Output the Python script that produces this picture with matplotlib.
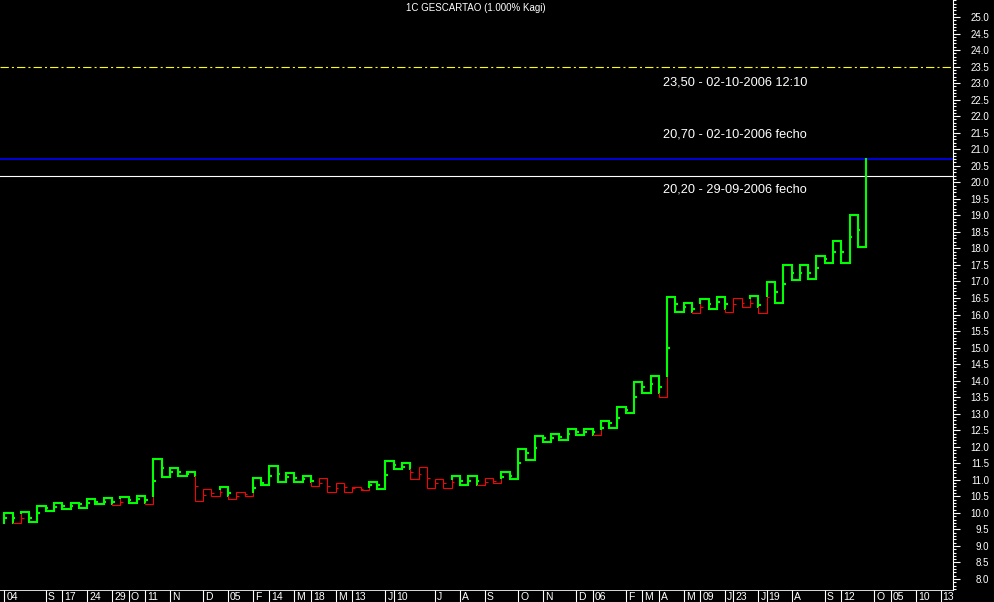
import matplotlib
matplotlib.use('Agg')
import matplotlib.pyplot as plt
import matplotlib.transforms as mtransforms
from matplotlib.ticker import MultipleLocator, FormatStrFormatter
import numpy as np

plt.rcParams['font.family'] = ['Liberation Sans', 'DejaVu Sans']
plt.rcParams['lines.scale_dashes'] = False

# kagi turning points (1% reversal), one vertical line per column
levels = [9.70, 10.01, 9.68, 10.02, 9.73, 10.21, 10.06, 10.31, 10.12, 10.31,
          10.14, 10.42, 10.26, 10.46, 10.24, 10.47, 10.31, 10.52, 10.27, 11.63,
          11.10, 11.37, 11.13, 11.25, 10.36, 10.71, 10.51, 10.77, 10.42, 10.62,
          10.51, 11.05, 10.84, 11.43, 10.92, 11.20, 10.93, 11.12, 10.81, 11.05,
          10.64, 10.89, 10.64, 10.77, 10.69, 10.94, 10.72, 11.58, 11.33, 11.50,
          11.02, 11.38, 10.74, 11.02, 10.74, 11.13, 10.84, 11.13, 10.83, 11.05,
          10.89, 11.25, 11.03, 11.93, 11.60, 12.33, 12.13, 12.38, 12.21, 12.53,
          12.36, 12.54, 12.35, 12.79, 12.58, 13.19, 13.03, 13.97, 13.64, 14.15,
          13.52, 16.54, 16.09, 16.34, 16.06, 16.46, 16.17, 16.54, 16.07, 16.49,
          16.22, 16.55, 16.05, 16.99, 16.36, 17.50, 17.04, 17.50, 17.07, 17.78,
          17.55, 18.23, 17.57, 19.01, 18.05, 20.70]

# small date marks on each column
marks = [9.84, 9.84, 9.84, 9.86, 9.99, 10.16, 10.19, 10.22, 10.22, 10.26,
         10.31, 10.34, 10.34, 10.34, 10.34, 10.39, 10.42, 10.39, 10.98, 11.37,
         11.25, 11.25, 11.18, 10.81, 10.54, 10.59, 10.62, 10.59, 10.51, 10.56,
         10.74, 10.89, 11.12, 11.18, 11.10, 11.05, 11.02, 10.98, 10.89, 10.81,
         10.76, 10.77, 10.74, 10.71, 10.84, 10.84, 11.15, 11.45, 11.40, 11.25,
         11.18, 11.05, 10.89, 10.89, 10.94, 10.98, 10.98, 10.98, 10.94, 10.96,
         11.08, 11.12, 11.52, 11.80, 11.97, 12.26, 12.28, 12.31, 12.39, 12.46,
         12.46, 12.46, 12.56, 12.71, 12.88, 13.11, 13.52, 13.82, 13.89, 13.82,
         15.00, 16.31, 16.24, 16.17, 16.22, 16.31, 16.37, 16.31, 16.31, 16.34,
         16.34, 16.29, 16.54, 16.69, 16.92, 17.27, 17.27, 17.27, 17.42, 17.67,
         17.90, 17.90, 18.34, 18.56, np.nan]

date_cols = [0, 5, 7, 10, 13, 15, 17, 20, 24, 27, 30, 32, 35, 37, 40, 42, 46, 47,
             52, 55, 58, 62, 65, 69, 71, 75, 77, 79, 82, 84, 87, 88, 91, 92, 95,
             99, 101, 105, 107, 110, 113]
date_labels = ['04', 'S', '17', '24', '29', 'O', '11', 'N', 'D', '05', 'F', '14',
               'M', '18', 'M', '13', 'J', '10', 'J', 'A', 'S', 'O', 'N', 'D', '06',
               'F', 'M', 'A', 'M', '09', 'J', '23', 'J', '19', 'A', 'S', '12', 'O',
               '05', '10', '13']

ref_lines = [23.50, 20.70, 20.20]
ref_texts = ['23,50 - 02-10-2006 12:10', '20,70 - 02-10-2006 fecho',
             '20,20 - 29-09-2006 fecho']
ref_text_y = [23.03, 21.46, 19.77]

GREEN = '#00ff00'
RED = '#ff0000'
W = 994
H = 602
xlim = (-0.52, 114.49)

fig = plt.figure(figsize=(W / 100, H / 100), dpi=100, facecolor='black')
ax = fig.add_axes([0, 12 / H, 953 / W, 590 / H], facecolor='black')
ax.set_xlim(*xlim)
ax.set_ylim(7.668, 25.514)

# build kagi pieces with yang/yin state
pieces = []
col_info = []
yang = True
n = len(levels) - 1
for i in range(n):
    a, b = levels[i], levels[i + 1]
    ref = levels[i - 1] if i > 0 else None
    flip = False
    if ref is not None:
        if b > a and not yang and b > ref:
            flip = True
        if b < a and yang and b < ref:
            flip = True
    before = yang
    if flip:
        pieces.append(([i, i], [a, ref], yang))
        yang = not yang
        pieces.append(([i, i], [ref, b], yang))
    else:
        pieces.append(([i, i], [a, b], yang))
    col_info.append((a, ref, b, flip, before, yang))
    if i < n - 1:
        pieces.append(([i, i + 1], [b, b], yang))

# merge same-state pieces into polylines
runs = []
for xs, ys, st in pieces:
    if runs and runs[-1][2] == st:
        runs[-1][0].append(xs[1])
        runs[-1][1].append(ys[1])
    else:
        runs.append(([xs[0], xs[1]], [ys[0], ys[1]], st))
for xs, ys, st in runs:
    ax.plot(xs, ys, color=GREEN if st else RED, lw=1.5 if st else 0.75,
            solid_joinstyle='miter', solid_capstyle='projecting', zorder=3)

# date marks
for i, m in enumerate(marks):
    if np.isnan(m):
        continue
    a, ref, b, flip, before, after = col_info[i]
    st = after
    if flip and (min(a, ref) <= m <= max(a, ref)):
        st = before
    ax.hlines(m, i, i + 0.32, color=GREEN if st else RED,
              lw=1.5 if st else 0.75, zorder=3)

# reference lines
ax.axhline(ref_lines[0], color='#ffff00', lw=0.8,
           linestyle=(0, (6, 2.2, 1.5, 2.2)), zorder=2)
ax.axhline(ref_lines[1], color='#0000ff', lw=1.2, zorder=2)
ax.axhline(ref_lines[2], color='white', lw=0.8, zorder=2)
trans = mtransforms.blended_transform_factory(ax.transAxes, ax.transData)
for t, y in zip(ref_texts, ref_text_y):
    ax.text(807 / 953, y, t, transform=trans, color='white', fontsize=9.2,
            ha='right', va='center')

# right price axis
for s in ['left', 'top', 'bottom']:
    ax.spines[s].set_visible(False)
ax.spines['right'].set_color('white')
ax.spines['right'].set_linewidth(0.8)
ax.xaxis.set_visible(False)
ax.yaxis.tick_right()
ax.set_yticks(np.arange(8.0, 25.01, 0.5))
ax.yaxis.set_minor_locator(MultipleLocator(0.1))
ax.yaxis.set_major_formatter(FormatStrFormatter('%.1f'))
ax.tick_params(axis='y', which='major', colors='white', length=5, width=0.8,
               labelsize=7, pad=21)
ax.tick_params(axis='y', which='minor', colors='white', length=2.5, width=0.8)
for lab in ax.get_yticklabels():
    lab.set_horizontalalignment('right')

fig.text(476 / W, 1 - 8 / H, '1C GESCARTAO (1.000% Kagi)', color='white',
         fontsize=7, ha='center', va='center')

# date strip
ax2 = fig.add_axes([0, 0, 953 / W, 12 / H], facecolor='black')
ax2.set_xlim(*xlim)
ax2.set_ylim(0, 1)
ax2.axis('off')
ax2.axhline(1, color='white', lw=1.2)
ax2.vlines(date_cols, 0, 1, color='white', lw=0.8)
off = mtransforms.offset_copy(ax2.transData, fig=fig, x=2, y=0, units='dots')
for c, lab in zip(date_cols, date_labels):
    ax2.text(c, 0.42, lab, transform=off, color='white', fontsize=7.5,
             ha='left', va='center')

fig.savefig('out.png', dpi=100, facecolor='black')
